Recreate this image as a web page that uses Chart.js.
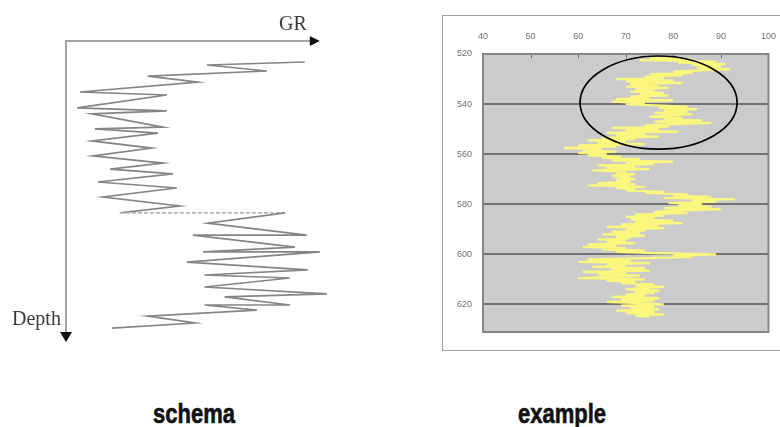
<!DOCTYPE html>
<html>
<head>
<meta charset="utf-8">
<script src="https://cdn.jsdelivr.net/npm/chart.js@4.4.1/dist/chart.umd.min.js"></script>
<style>
  html, body { margin: 0; padding: 0; background: #fff; }
  body { width: 780px; height: 427px; position: relative; overflow: hidden; }
  canvas { position: absolute; }
  #schema { left: 0; top: 0; }
  #log-box { position: absolute; left: 442px; top: 15px; width: 400px; height: 336px; border: 1px solid #a0a0a0; box-sizing: border-box; }
  #log { left: 442px; top: 15px; }
  .axis-name { position: absolute; font: 20px/20px "Liberation Serif", serif; color: #3a3a3a; }
  .caption { position: absolute; top: 405px; font: bold 22px/22px "Liberation Sans", Arial, sans-serif; color: #111;
             transform: scaleY(1.25); transform-origin: 0 18.6px; -webkit-text-stroke: 0.5px #111; }
</style>
</head>
<body>
<canvas id="schema" width="360" height="360"></canvas>
<div class="axis-name" style="left:279px; top:13px;">GR</div>
<div class="axis-name" style="left:12px; top:308px;">Depth</div>

<div id="log-box"></div>
<canvas id="log" width="338" height="335"></canvas>

<div class="caption" style="left:153px;">schema</div>
<div class="caption" style="left:518px;">example</div>

<script>
// idealised log: GR swings (0-100) against relative depth (0-100)
const schemaGR = [94.8, 56, 79.8, 32.5, 52.4, 5.6, 40, 4.4, 40, 10.3, 38.5, 11.5, 36.5, 10.3, 34,
  10.7, 38.5, 17.5, 42.5, 12.7, 44, 14.7, 45.2, 21.4, 87, 56.3, 95.6, 50.4, 90.9, 54.4, 100.8,
  48, 96, 55, 88.9, 55, 103.6, 63, 88.9, 55, 75.8, 32.5, 51.2, 18.3];
const schemaDepth = [7, 8, 10, 11.7, 13.7, 17, 18, 22.3, 23.3, 24.3, 28.7, 29.3, 30.7, 33.3, 35.7,
  38.3, 40.7, 42.7, 44.3, 47, 49, 52, 55, 57.3, 57.3, 60.7, 64.7, 64.7, 68.7, 70.3, 70.3,
  73.7, 76.3, 78, 79, 82, 84.3, 85.3, 88, 88, 89.7, 91.7, 94, 95.7];

// well log samples, every half unit of depth
const depth = [
  521.5, 522, 522.5, 523, 523.5, 524, 524.5, 525, 525.5, 526,
  526.5, 527, 527.5, 528, 528.5, 529, 529.5, 530, 530.5, 531,
  531.5, 532, 532.5, 533, 533.5, 534, 534.5, 535, 535.5, 536,
  536.5, 537, 537.5, 538, 538.5, 539, 539.5, 540, 540.5, 541,
  541.5, 542, 542.5, 543, 543.5, 544, 544.5, 545, 545.5, 546,
  546.5, 547, 547.5, 548, 548.5, 549, 549.5, 550, 550.5, 551,
  551.5, 552, 552.5, 553, 553.5, 554, 554.5, 555, 555.5, 556,
  556.5, 557, 557.5, 558, 558.5, 559, 559.5, 560, 560.5, 561,
  561.5, 562, 562.5, 563, 563.5, 564, 564.5, 565, 565.5, 566,
  566.5, 567, 567.5, 568, 568.5, 569, 569.5, 570, 570.5, 571,
  571.5, 572, 572.5, 573, 573.5, 574, 574.5, 575, 575.5, 576,
  576.5, 577, 577.5, 578, 578.5, 579, 579.5, 580, 580.5, 581,
  581.5, 582, 582.5, 583, 583.5, 584, 584.5, 585, 585.5, 586,
  586.5, 587, 587.5, 588, 588.5, 589, 589.5, 590, 590.5, 591,
  591.5, 592, 592.5, 593, 593.5, 594, 594.5, 595, 595.5, 596,
  596.5, 597, 597.5, 598, 598.5, 599, 599.5, 600, 600.5, 601,
  601.5, 602, 602.5, 603, 603.5, 604, 604.5, 605, 605.5, 606,
  606.5, 607, 607.5, 608, 608.5, 609, 609.5, 610, 610.5, 611,
  611.5, 612, 612.5, 613, 613.5, 614, 614.5, 615, 615.5, 616,
  616.5, 617, 617.5, 618, 618.5, 619, 619.5, 620, 620.5, 621,
  621.5, 622, 622.5, 623, 623.5, 624, 624.5, 625
];
const gammaRay = [
  75, 84, 73, 89, 81, 91, 84, 90, 85, 92,
  86, 80, 84, 75, 82, 74, 78, 68, 80, 70,
  82, 71, 77, 70, 79, 72, 76, 71, 78, 73,
  79, 71, 75, 68, 80, 67, 74, 70, 76, 83,
  77, 85, 78, 83, 76, 84, 79, 75, 82, 78,
  86, 76, 88, 80, 74, 79, 67, 77, 70, 81,
  66, 74, 68, 77, 65, 72, 62, 70, 64, 74,
  60, 68, 57, 65, 61, 68, 60, 66, 62, 69,
  65, 73, 67, 80, 70, 76, 64, 72, 66, 75,
  63, 70, 68, 72, 67, 71, 69, 72, 68, 71,
  64, 72, 62, 74, 68, 72, 70, 78, 74, 83,
  80, 88, 78, 93, 84, 89, 79, 86, 81, 88,
  78, 90, 80, 76, 83, 72, 78, 70, 76, 71,
  80, 72, 82, 69, 77, 66, 78, 70, 74, 67,
  73, 65, 74, 68, 71, 64, 70, 66, 72, 62,
  68, 61, 70, 65, 74, 68, 76, 89, 80, 84,
  74, 62, 71, 60, 75, 66, 70, 63, 74, 67,
  75, 61, 70, 64, 73, 68, 60, 74, 66, 72,
  69, 76, 72, 78, 73, 70, 77, 72, 76, 70,
  74, 67, 77, 69, 76, 66, 73, 78, 69, 76,
  71, 77, 68, 76, 70, 78, 72, 75
];

const grTicks = [40, 50, 60, 70, 80, 90, 100];
const depthTicks = [520, 540, 560, 580, 600, 620];

// interval singled out on the log
const markCenter = [76.9, 539.4];
const markRadius = [16.5, 18.6];

const schemaAxes = {
  id: "schemaAxes",
  beforeDatasetsDraw(chart) {
    const { ctx, scales: { x, y } } = chart;
    const x0 = x.getPixelForValue(0), y0 = y.getPixelForValue(0);
    const xEnd = x.getPixelForValue(100), yEnd = y.getPixelForValue(100);
    ctx.save();
    ctx.strokeStyle = "#a3a3a3";
    ctx.lineWidth = 2;
    ctx.beginPath();
    ctx.moveTo(xEnd - 6, y0);
    ctx.lineTo(x0, y0);
    ctx.lineTo(x0, yEnd - 6);
    ctx.stroke();
    ctx.fillStyle = "#111";
    ctx.beginPath();
    ctx.moveTo(xEnd + 2, y0);
    ctx.lineTo(xEnd - 8, y0 - 5);
    ctx.lineTo(xEnd - 8, y0 + 5);
    ctx.closePath();
    ctx.fill();
    ctx.beginPath();
    ctx.moveTo(x0, yEnd + 1);
    ctx.lineTo(x0 - 6, yEnd - 9);
    ctx.lineTo(x0 + 6, yEnd - 9);
    ctx.closePath();
    ctx.fill();
    ctx.restore();
  },
};

new Chart(document.getElementById("schema"), {
  type: "scatter",
  data: {
    datasets: [{
      data: schemaGR.map((v, i) => ({ x: v, y: schemaDepth[i] })),
      showLine: true,
      borderColor: "#858585",
      borderWidth: 1.7,
      pointRadius: 0,
      tension: 0,
      segment: {
        borderDash: (c) => (c.p0DataIndex === 23 ? [4, 2] : undefined),
        borderColor: (c) => (c.p0DataIndex === 23 ? "#b5b5b5" : undefined),
      },
    }],
  },
  options: {
    responsive: false,
    animation: false,
    layout: { padding: { left: 66, top: 41, right: 17, bottom: 19 } },
    plugins: { legend: { display: false }, tooltip: { enabled: false } },
    scales: {
      x: { type: "linear", min: 0, max: 110, display: false },
      y: { type: "linear", min: 0, max: 100, reverse: true, display: false },
    },
  },
  plugins: [schemaAxes],
});

const logFrame = {
  id: "logFrame",
  beforeDraw(chart) {
    const { ctx, chartArea: a } = chart;
    ctx.save();
    ctx.fillStyle = "#cbcbcb";
    ctx.fillRect(a.left, a.top, a.right - a.left, a.bottom - a.top);
    ctx.restore();
  },
  afterDatasetsDraw(chart) {
    const { ctx, chartArea: a, scales: { x, y } } = chart;
    ctx.save();
    ctx.strokeStyle = "#6a6a6a";
    ctx.lineWidth = 1;
    grTicks.forEach((v) => {
      const px = Math.round(x.getPixelForValue(v)) + 0.5;
      ctx.beginPath();
      ctx.moveTo(px, a.top);
      ctx.lineTo(px, a.top + 4);
      ctx.stroke();
    });
    ctx.strokeStyle = "#868686";
    ctx.lineWidth = 2;
    ctx.strokeRect(a.left, a.top, a.right - a.left, a.bottom - a.top);

    const cx = x.getPixelForValue(markCenter[0]);
    const cy = y.getPixelForValue(markCenter[1]);
    const rx = Math.abs(x.getPixelForValue(markCenter[0] + markRadius[0]) - cx);
    const ry = Math.abs(y.getPixelForValue(markCenter[1] + markRadius[1]) - cy);
    ctx.strokeStyle = "#000";
    ctx.lineWidth = 1.7;
    ctx.beginPath();
    ctx.ellipse(cx, cy, rx, ry, 0, 0, Math.PI * 2);
    ctx.stroke();
    ctx.restore();
  },
};

const tickFont = { family: "Liberation Sans, Arial, sans-serif", size: 9 };

new Chart(document.getElementById("log"), {
  type: "scatter",
  data: {
    datasets: [{
      data: gammaRay.map((v, i) => ({ x: v, y: depth[i] })),
      showLine: true,
      borderColor: "#fbf77c",
      borderWidth: 2.2,
      pointRadius: 0,
      tension: 0,
    }],
  },
  options: {
    responsive: false,
    animation: false,
    layout: { padding: { left: 0, top: 0, right: 11, bottom: 18 } },
    plugins: { legend: { display: false }, tooltip: { enabled: false } },
    scales: {
      x: {
        type: "linear",
        position: "top",
        min: 40,
        max: 100,
        afterBuildTicks: (s) => { s.ticks = grTicks.map((v) => ({ value: v })); },
        afterFit: (s) => { s.height = 39; },
        grid: { display: false },
        border: { display: false },
        ticks: { color: "#6e6e6e", font: tickFont, padding: 4, maxRotation: 0, autoSkip: false },
      },
      y: {
        type: "linear",
        reverse: true,
        min: 520,
        max: 631,
        afterBuildTicks: (s) => { s.ticks = depthTicks.map((v) => ({ value: v })); },
        afterFit: (s) => { s.width = 41; },
        grid: {
          color: (c) => (c.tick && c.tick.value === 520 ? "rgba(0,0,0,0)" : "#727272"),
          lineWidth: 2,
          drawTicks: false,
        },
        border: { display: false },
        ticks: { color: "#6e6e6e", font: tickFont, padding: 11, autoSkip: false },
      },
    },
  },
  plugins: [logFrame],
});
</script>
</body>
</html>
